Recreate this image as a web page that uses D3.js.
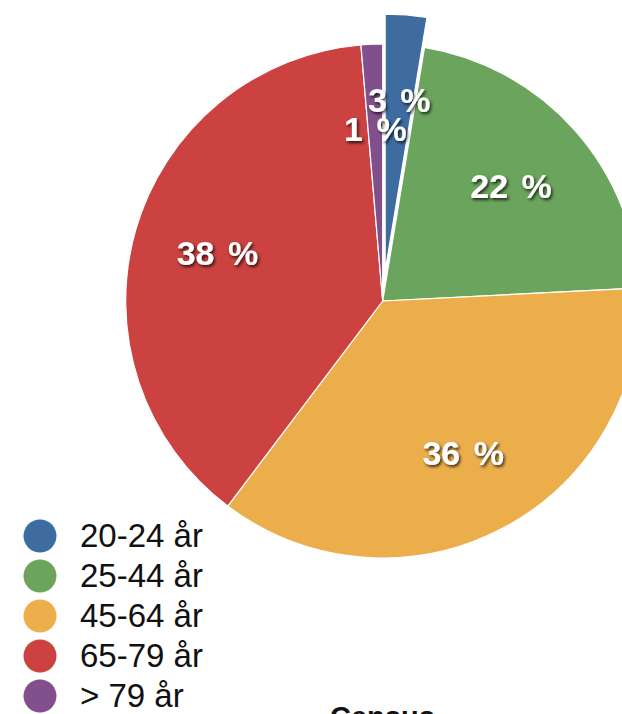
<!DOCTYPE html>
<html>
<head>
<meta charset="utf-8">
<script src="https://cdn.jsdelivr.net/npm/d3@7"></script>
<style>
  body { margin: 0; background: #fff; }
  svg { display: block; }
</style>
</head>
<body>
<div id="chart"></div>
<script>
// age groups and their share (%)
const groups = ["20-24 år", "25-44 år", "45-64 år", "65-79 år", "> 79 år"];
const shares = [2.6, 21.6, 36.1, 38.35, 1.35];
const labels = ["3 %", "22 %", "36 %", "38 %", "1 %"];
const colors = ["#3e6ca1", "#6ba45c", "#ebae4b", "#cb4240", "#81508c"];
const exploded = [true, false, false, false, false];

const W = 622, H = 714;
const cx = 382.7, cy = 301, R = 257;
const labelR = 172;
const explode = 30;

const svg = d3.select("#chart").append("svg")
    .attr("width", W)
    .attr("height", H);

const defs = svg.append("defs");
const shadow = defs.append("filter")
    .attr("id", "shadow")
    .attr("x", "-20%").attr("y", "-30%")
    .attr("width", "140%").attr("height", "160%");
shadow.append("feDropShadow")
    .attr("dx", 1.5).attr("dy", 2)
    .attr("stdDeviation", 1.5)
    .attr("flood-color", "#000")
    .attr("flood-opacity", 0.75);

const data = groups.map((g, i) => ({ group: g, value: shares[i], label: labels[i], color: colors[i], out: exploded[i] }));

const pie = d3.pie().sort(null).value(d => d.value);
const arc = d3.arc().innerRadius(0).outerRadius(R);
const labelArc = d3.arc().innerRadius(labelR).outerRadius(labelR);

const arcs = pie(data);

function offset(d) {
    if (!d.data.out) return [0, 0];
    const mid = (d.startAngle + d.endAngle) / 2;
    return [Math.sin(mid) * explode, -Math.cos(mid) * explode];
}

const g = svg.append("g").attr("transform", "translate(" + cx + "," + cy + ")");

g.selectAll("path.slice")
    .data(arcs)
    .enter().append("path")
    .attr("class", "slice")
    .attr("d", arc)
    .attr("transform", d => "translate(" + offset(d) + ")")
    .attr("fill", d => d.data.color)
    .attr("stroke", "#fff")
    .attr("stroke-width", 1.2)
    .attr("stroke-linejoin", "round");

g.selectAll("text.pct")
    .data(arcs)
    .enter().append("text")
    .attr("class", "pct")
    .attr("transform", d => {
        const c = labelArc.centroid(d);
        const o = offset(d);
        return "translate(" + (c[0] + o[0]) + "," + (c[1] + o[1]) + ")";
    })
    .attr("y", 12)
    .attr("text-anchor", "middle")
    .attr("font-family", "'Liberation Sans', Arial, Helvetica, sans-serif")
    .attr("font-weight", "bold")
    .attr("font-size", "34px")
    .attr("word-spacing", "4px")
    .attr("fill", "#fff")
    .attr("filter", "url(#shadow)")
    .text(d => d.data.label);

// legend
const legend = svg.append("g").attr("transform", "translate(40,536)");
const items = legend.selectAll("g.item")
    .data(data)
    .enter().append("g")
    .attr("class", "item")
    .attr("transform", (d, i) => "translate(0," + (i * 40) + ")");

items.append("circle")
    .attr("r", 16.5)
    .attr("fill", d => d.color);

items.append("text")
    .attr("x", 40)
    .attr("y", 11)
    .attr("font-family", "'Liberation Sans', Arial, Helvetica, sans-serif")
    .attr("font-size", "33px")
    .attr("fill", "#111")
    .text(d => d.group);

// title cut off at the bottom edge
svg.append("text")
    .attr("x", 330)
    .attr("y", 727)
    .attr("font-family", "'Liberation Sans', Arial, Helvetica, sans-serif")
    .attr("font-weight", "bold")
    .attr("font-size", "29px")
    .attr("fill", "#111")
    .text("Census");
</script>
</body>
</html>
